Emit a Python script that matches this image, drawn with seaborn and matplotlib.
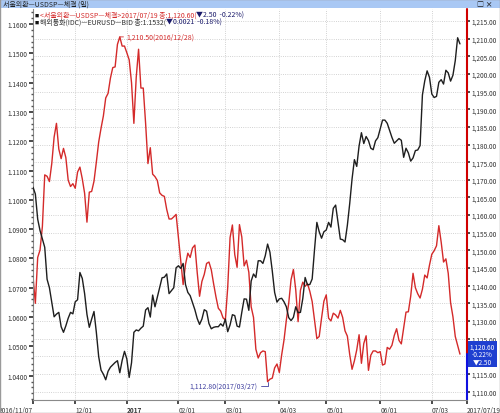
import numpy as np
import pandas as pd
import matplotlib
matplotlib.use("Agg")
import matplotlib.pyplot as plt
import seaborn as sns
from matplotlib.patches import Rectangle
from matplotlib.ticker import MultipleLocator, FuncFormatter

# 일별 (영업일) 2016/11/07 ~ 2017/07/19
START, END = "2016-11-07", "2017-07-19"

# 서울외환 USDSP 체결 (우축, 원)
KRW = [
    1142.7, 1135.0, 1148.0, 1150.1, 1156.8, 1171.4, 1171.0, 1169.5, 1174.6, 1182.1,
    1186.0, 1178.7, 1176.0, 1178.9, 1176.3, 1169.9, 1168.1, 1168.9, 1167.6, 1172.2,
    1173.6, 1170.3, 1166.2, 1158.0, 1166.5, 1166.7, 1169.6, 1175.0, 1180.7, 1184.6,
    1188.1, 1193.2, 1194.5, 1198.8, 1201.8, 1202.0, 1208.4, 1210.5, 1207.9, 1207.9,
    1206.0, 1204.0, 1197.5, 1186.0, 1199.0, 1207.0, 1196.0, 1196.0, 1186.0, 1174.6,
    1179.1, 1171.6, 1170.9, 1169.8, 1166.3, 1165.6, 1165.3, 1161.6, 1158.9, 1158.9,
    1159.5, 1160.2, 1153.5, 1146.5, 1140.3, 1146.0, 1149.2, 1148.0, 1150.7, 1151.5,
    1143.7, 1137.0, 1141.2, 1143.2, 1146.3, 1146.7, 1144.5, 1140.5, 1136.8, 1133.6,
    1132.8, 1130.9, 1130.3, 1139.5, 1153.6, 1157.2, 1148.8, 1145.2, 1157.3, 1153.8,
    1145.6, 1147.2, 1143.8, 1134.0, 1131.0, 1122.0, 1119.5, 1121.0, 1121.5, 1121.3,
    1112.8, 1113.5, 1113.8, 1116.7, 1117.8, 1115.4, 1120.4, 1124.6, 1130.3, 1135.0,
    1141.7, 1144.6, 1138.8, 1129.8, 1138.7, 1141.0, 1139.8, 1140.6, 1138.4, 1135.5,
    1130.2, 1125.0, 1125.6, 1130.8, 1135.6, 1137.4, 1130.8, 1130.0, 1132.2, 1131.7,
    1130.8, 1133.0, 1131.0, 1127.2, 1125.7, 1120.5, 1116.3, 1118.7, 1121.8, 1126.1,
    1118.0, 1123.6, 1125.8, 1116.0, 1120.3, 1121.5, 1121.5, 1121.0, 1121.3, 1117.5,
    1117.8, 1122.5, 1122.0, 1123.1, 1125.9, 1127.8, 1124.5, 1123.5, 1128.1, 1132.5,
    1132.6, 1137.0, 1143.5, 1139.4, 1137.7, 1136.5, 1139.0, 1143.0, 1142.2, 1145.8,
    1148.9, 1149.9, 1151.3, 1157.0, 1152.3, 1146.7, 1147.6, 1143.5, 1135.2, 1131.2,
    1125.6, 1123.1, 1120.6,
]

# 해외통화(IDC) EURUSD BID (좌축)
EUR = [
    1.1043, 1.1020, 1.0934, 1.0895, 1.0866, 1.0838, 1.0729, 1.0700, 1.0650, 1.0601,
    1.0610, 1.0616, 1.0567, 1.0548, 1.0570, 1.0596, 1.0616, 1.0611, 1.0652, 1.0659,
    1.0752, 1.0732, 1.0680, 1.0609, 1.0565, 1.0593, 1.0619, 1.0548, 1.0465, 1.0419,
    1.0405, 1.0386, 1.0415, 1.0429, 1.0437, 1.0445, 1.0451, 1.0410, 1.0452, 1.0483,
    1.0457, 1.0394, 1.0444, 1.0548, 1.0556, 1.0553, 1.0562, 1.0569, 1.0624, 1.0632,
    1.0600, 1.0675, 1.0635, 1.0668, 1.0701, 1.0734, 1.0736, 1.0747, 1.0680, 1.0690,
    1.0700, 1.0768, 1.0775, 1.0766, 1.0783, 1.0711, 1.0684, 1.0673, 1.0649, 1.0625,
    1.0595, 1.0575, 1.0593, 1.0625, 1.0620, 1.0578, 1.0560, 1.0565, 1.0567, 1.0567,
    1.0577, 1.0569, 1.0593, 1.0550, 1.0573, 1.0608, 1.0605, 1.0569, 1.0566, 1.0616,
    1.0662, 1.0661, 1.0623, 1.0723, 1.0747, 1.0735, 1.0792, 1.0792, 1.0783, 1.0809,
    1.0849, 1.0821, 1.0757, 1.0684, 1.0651, 1.0662, 1.0664, 1.0652, 1.0635, 1.0598,
    1.0588, 1.0599, 1.0635, 1.0615, 1.0616, 1.0663, 1.0735, 1.0710, 1.0711, 1.0730,
    1.0830, 1.0923, 1.0891, 1.0869, 1.0891, 1.0897, 1.0923, 1.0907, 1.0971, 1.0982,
    1.0925, 1.0866, 1.0864, 1.0856, 1.0913, 1.0987, 1.1071, 1.1137, 1.1114, 1.1184,
    1.1229, 1.1192, 1.1216, 1.1202, 1.1176, 1.1171, 1.1201, 1.1212, 1.1242, 1.1272,
    1.1272, 1.1261, 1.1237, 1.1213, 1.1193, 1.1201, 1.1209, 1.1203, 1.1145, 1.1176,
    1.1160, 1.1132, 1.1143, 1.1168, 1.1170, 1.1185, 1.1358, 1.1406, 1.1440, 1.1418,
    1.1361, 1.1349, 1.1353, 1.1401, 1.1410, 1.1395, 1.1442, 1.1433, 1.1405, 1.1425,
    1.1475, 1.1553, 1.1532,
]

TITLE = "서울외환—USDSP—체결 (일)"
KRW_NAME = "<서울외환—USDSP—체결>"
EUR_NAME = "해외통화(IDC)—EURUSD—BID"

RED = "#d42a2a"
BLACK = "#1e1e1e"
BLUE = "#1f3fd0"
FS = 5.0      # 범례/주석
TFS = 4.7     # 눈금

sns.set_theme(style="white")
plt.rcParams["font.family"] = ["Noto Sans CJK KR", "DejaVu Sans"]

dates = pd.bdate_range(START, END)
df = pd.DataFrame({"idx": np.arange(len(dates)), "date": dates, "krw": KRW, "eur": EUR})

fig = plt.figure(figsize=(5, 4.14), dpi=100)
fig.patch.set_facecolor("white")
ax = fig.add_axes([0.066, 0.0314, 0.868, 0.9444])   # 원화 (우축)
ax2 = ax.twinx()                                     # 유로 (좌축)

sns.lineplot(data=df, x="idx", y="krw", ax=ax, color=RED, lw=1.0)
sns.lineplot(data=df, x="idx", y="eur", ax=ax2, color=BLACK, lw=1.0)

XMAX = 185
ax.set_xlim(0, XMAX)
ax.set_ylim(1107.6, 1218.4)
ax2.set_ylim(1.0317, 1.1651)
for a in (ax, ax2):
    a.set_xlabel("")
    a.set_ylabel("")

# 축 위치: 원화 우측, 유로 좌측
ax.yaxis.tick_right()
ax2.yaxis.tick_left()
ax.yaxis.set_major_locator(MultipleLocator(5))
ax.yaxis.set_major_formatter(FuncFormatter(lambda v, p: f"{v:,.2f}"))
ax2.yaxis.set_major_locator(MultipleLocator(0.01))
ax2.yaxis.set_minor_locator(MultipleLocator(0.002))
ax2.yaxis.set_major_formatter(FuncFormatter(lambda v, p: f"{v:.4f}"))
ax.tick_params(axis="y", labelsize=TFS, length=2, pad=1, colors="#333333", direction="out")
ax2.tick_params(axis="y", which="major", labelsize=TFS, length=3, pad=1, colors="#333333")
ax2.tick_params(axis="y", which="minor", length=1.5, color="#555555", left=True)

# x축 눈금: 월 첫 영업일
month_start = [i for i in range(1, len(dates)) if dates[i].month != dates[i - 1].month]
xt = [0] + month_start + [XMAX]
xl = [dates[0].strftime("%Y/%m/%d")]
for i in month_start:
    xl.append(str(dates[i].year) if dates[i].month == 1 else dates[i].strftime("%m/%d"))
xl.append(dates[-1].strftime("%Y/%m/%d"))
ax.set_xticks(xt)
ax.set_xticklabels(xl)
ax.tick_params(axis="x", labelsize=TFS, length=3, pad=1, colors="#333333", bottom=True)
for k, lbl in enumerate(ax.get_xticklabels()):
    lbl.set_ha("right" if k == 0 else "left")
    if lbl.get_text().isdigit():
        lbl.set_fontweight("bold")

ax.grid(True, axis="both", ls=":", lw=0.6, color="#c4c4c4")
for s in ("top", "right"):
    ax.spines[s].set_visible(False)
for s in ("left", "bottom"):
    ax.spines[s].set_color("#8a8a8a")
    ax.spines[s].set_linewidth(0.8)
for s in ax2.spines.values():
    s.set_visible(False)

# 우측 현재가 라인 (위 빨강, 아래 파랑)
last = df["krw"].iloc[-1]
prev = df["krw"].iloc[-2]
y0, y1 = ax.get_ylim()
ax.plot([XMAX, XMAX], [last, y1], color="#d00000", lw=1.5, clip_on=False)
ax.plot([XMAX, XMAX], [y0, last], color="#1010e0", lw=1.5, clip_on=False)
chg = last - prev
pct = chg / prev * 100
cur = ax.annotate(f"{last:,.2f}\n{pct:.2f}%\n▼{abs(chg):.2f}", xy=(XMAX, last),
                  xytext=(2, 0), textcoords="offset points", ha="left", va="center",
                  fontsize=TFS, color="white", linespacing=0.95, multialignment="center",
                  bbox=dict(boxstyle="square,pad=0.25", fc=BLUE, ec="none"),
                  annotation_clip=False, zorder=10)
# 박스 뒤에 가려지는 눈금 라벨은 숨김
for lbl, v in zip(ax.get_yticklabels(), ax.get_yticks()):
    if abs(v - last) < 4:
        lbl.set_visible(False)

# 최고/최저 표시
imax = df["krw"].idxmax()
imin = df["krw"].idxmin()
ax.annotate(f"{df.krw[imax]:,.2f}({df.date[imax]:%Y/%m/%d})", xy=(imax, df.krw[imax]),
            xytext=(5, 0), textcoords="offset points", ha="left", va="center",
            fontsize=FS, color=RED,
            arrowprops=dict(arrowstyle="-", color=RED, lw=0.6, shrinkA=0, shrinkB=0))
ax.annotate(f"{df.krw[imin]:,.2f}({df.date[imin]:%Y/%m/%d})", xy=(imin, df.krw[imin]),
            xytext=(-7, -3), textcoords="offset points", ha="right", va="center",
            fontsize=FS, color="#4040a0",
            arrowprops=dict(arrowstyle="-", color="#4040a0", lw=0.6, shrinkA=0, shrinkB=0,
                            connectionstyle="angle,angleA=0,angleB=90,rad=0"))

# 타이틀 바
fig.add_artist(Rectangle((0, 1 - 9 / 414), 1, 9 / 414, transform=fig.transFigure,
                         fc="#a9c8f4", ec="none"))
fig.text(3 / 500, 1 - 4.5 / 414, TITLE, fontsize=FS, va="center", color="#222222")
fig.text(0.985, 1 - 4.5 / 414, "□ ×", fontsize=FS, va="center", ha="right",
         color="#222222", fontweight="bold")

# 범례 텍스트
renderer = fig.canvas.get_renderer()
eur_last = df["eur"].iloc[-1]
eur_chg = eur_last - df["eur"].iloc[-2]
eur_pct = eur_chg / df["eur"].iloc[-2] * 100
lines = [
    (f"{KRW_NAME}{dates[-1]:%Y/%m/%d} 종:{last:,.2f}(", RED,
     f"▼{abs(chg):.2f}  {pct:.2f}%)", "#1a1a6a", 1 - 15.5 / 414),
    (f"{EUR_NAME} 종:{eur_last:.4f}(", "#333333",
     f"▼{abs(eur_chg):.4f}  {eur_pct:.2f}%)", "#1a1a6a", 1 - 22.5 / 414),
]
for txt1, c1, txt2, c2, yy in lines:
    fig.text(34.5 / 500, yy, "■", fontsize=3, va="center", color="#111111")
    t1 = fig.text(39.5 / 500, yy, txt1, fontsize=FS, va="center", color=c1)
    bb = t1.get_window_extent(renderer=renderer)
    fig.text(bb.x1 / fig.bbox.width, yy, txt2, fontsize=FS, va="center", color=c2)

# 창 테두리
fig.add_artist(Rectangle((0, 0), 1, 1, transform=fig.transFigure, fc="none",
                         ec="#9a9a9a", lw=1.0))

fig.savefig("out.png", dpi=100)
